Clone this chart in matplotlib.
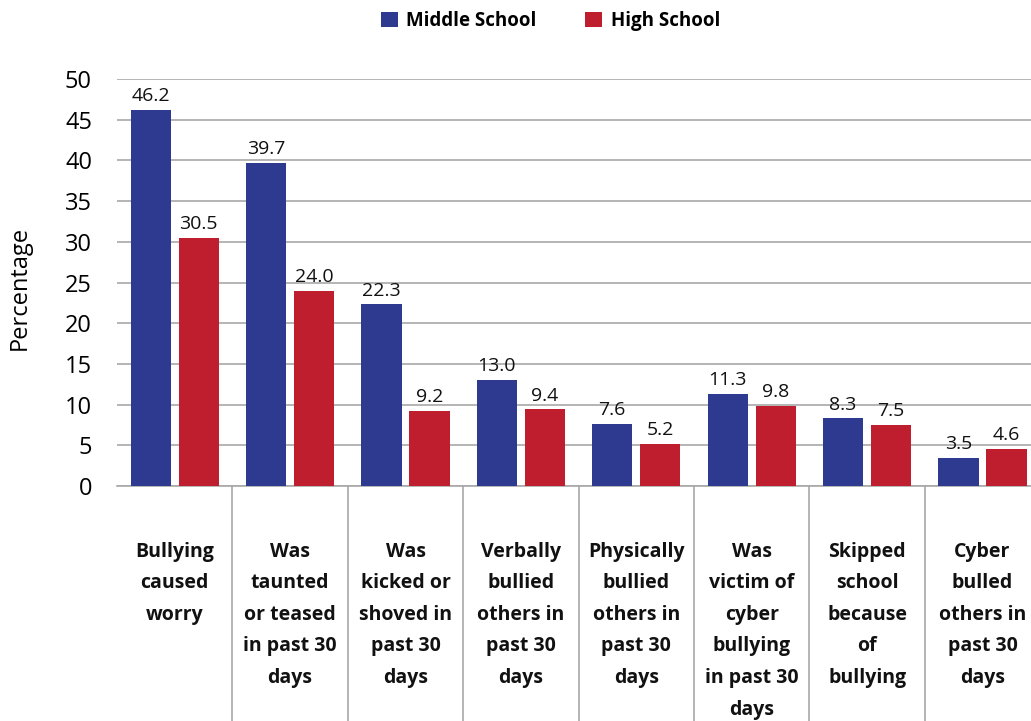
import matplotlib
matplotlib.use("Agg")
import matplotlib.pyplot as plt
import numpy as np

categories = [
    "Bullying\ncaused\nworry",
    "Was\ntaunted\nor teased\nin past 30\ndays",
    "Was\nkicked or\nshoved in\npast 30\ndays",
    "Verbally\nbullied\nothers in\npast 30\ndays",
    "Physically\nbullied\nothers in\npast 30\ndays",
    "Was\nvictim of\ncyber\nbullying\nin past 30\ndays",
    "Skipped\nschool\nbecause\nof\nbullying",
    "Cyber\nbulled\nothers in\npast 30\ndays",
]
middle_school = [46.2, 39.7, 22.3, 13.0, 7.6, 11.3, 8.3, 3.5]
high_school = [30.5, 24.0, 9.2, 9.4, 5.2, 9.8, 7.5, 4.6]
series_names = ["Middle School", "High School"]
yticks = [0, 5, 10, 15, 20, 25, 30, 35, 40, 45, 50]

plt.rcParams['font.family'] = ['Open Sans', 'DejaVu Sans']

W, H = 1031, 721
fig = plt.figure(figsize=(W / 100, H / 100), dpi=100)
ax_left = 117 / W
ax_bottom = (H - 486) / H
ax_top = (H - 79) / H
ax = fig.add_axes([ax_left, ax_bottom, 1 - ax_left, ax_top - ax_bottom])

blue = "#2E3A8F"
red = "#BE1E2D"
grid_c = "#a8a8a8"

x = np.arange(len(categories))
bw = 0.347
off = 0.208
b1 = ax.bar(x - off, middle_school, bw, color=blue, label=series_names[0], zorder=3)
b2 = ax.bar(x + off, high_school, bw, color=red, label=series_names[1], zorder=3)

for bars, vals in ((b1, middle_school), (b2, high_school)):
    for rect, v in zip(bars, vals):
        ax.text(rect.get_x() + rect.get_width() / 2, v + 0.6, f"{v:.1f}",
                ha="center", va="bottom", fontsize=14, color="#111111", zorder=4)

cat_w = 115.4
ax.set_xlim(-0.5, -0.5 + (W - 117) / cat_w)
ax.set_ylim(0, 50)
ax.set_yticks(yticks)
ax.set_yticklabels([str(t) for t in yticks], fontsize=17)
ax.tick_params(axis="y", length=0, pad=18)
ax.set_xticks([])
ax.yaxis.grid(True, color=grid_c, linewidth=1.2, zorder=0)
ax.set_axisbelow(True)
for s in ["top", "right", "left"]:
    ax.spines[s].set_visible(False)
ax.spines["bottom"].set_color(grid_c)
ax.spines["bottom"].set_linewidth(1.2)

# category separators extending below the axis
trans = ax.get_xaxis_transform()
for k in range(1, len(categories)):
    ax.plot([k - 0.5, k - 0.5], [0, -0.6], transform=trans, color=grid_c,
            linewidth=1.2, clip_on=False)

for xi, lab in zip(x, categories):
    ax.text(xi, -0.137, lab, transform=trans, ha="center", va="top",
            fontsize=14, fontweight="bold", linespacing=1.77, color="#111111")

ax.set_ylabel("Percentage", fontsize=17, labelpad=22)
ax.yaxis.set_label_coords(-0.093, 0.487)

leg = fig.legend(handles=[b1, b2], labels=series_names, loc="upper center",
                 bbox_to_anchor=(0.534, 1.008), ncol=2, frameon=False,
                 prop={"weight": "bold", "size": 13.5}, handlelength=0.9,
                 handleheight=0.9, columnspacing=2.6, handletextpad=0.45)

fig.savefig("out.png", dpi=100)
